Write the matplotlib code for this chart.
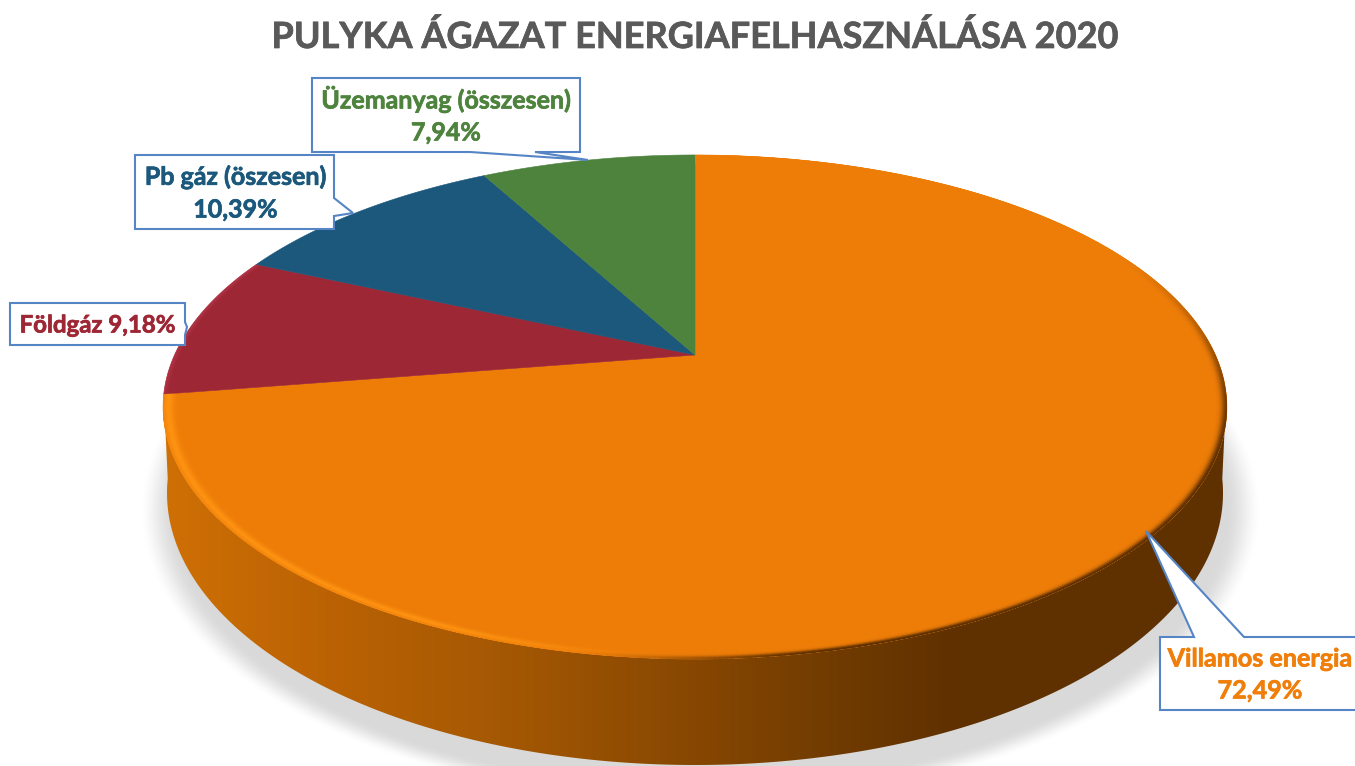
import numpy as np
import matplotlib
matplotlib.use("Agg")
import matplotlib.pyplot as plt
import matplotlib.patheffects as pe
from matplotlib.patches import Polygon
from matplotlib.collections import LineCollection
from matplotlib.colors import to_rgb, LinearSegmentedColormap

# ---- data ----
title = "PULYKA ÁGAZAT ENERGIAFELHASZNÁLÁSA 2020"
categories = ["Villamos energia", "Földgáz", "Pb gáz (öszesen)", "Üzemanyag (összesen)"]
values = [72.49, 9.18, 10.39, 7.94]
value_labels = ["72,49%", "9,18%", "10,39%", "7,94%"]
colors = ["#EE7D08", "#9E2735", "#1B587C", "#4E833E"]

# ---- style / layout ----
FONT = "Lato"
AX, AY = 695.0, 355.0      # apex of the perspective pie
K, P, C = 520.5, 241.3, 0.2063
EX, EY, EA, EB = 695.0, 407.0, 532.0, 252.0
BX, BY, BA, BB = 695.0, 493.0, 528.0, 272.0
LINE = "#5585C5"

fig = plt.figure(figsize=(13.55, 7.66), dpi=100, facecolor="white")
ax = fig.add_axes([0, 0, 1, 1])


def rim(theta_deg):
    """Perspective projection of a circle point, clockwise from the top."""
    th = np.radians(theta_deg)
    u, v = np.sin(th), np.cos(th)
    d = 1 + C * v
    return AX + K * u / d, AY - P * v / d


def smooth(a, b, x):
    s = np.clip((x - a) / (b - a), 0, 1)
    return s * s * (3 - 2 * s)


# shadow
xx, yy = np.meshgrid(np.arange(0, 1355), np.arange(0, 766))
r = np.hypot((xx - 700) / 525.0, (yy - 510) / 275.0)
dist = (r - 1) * 420
sh = np.clip(1 - dist / 30, 0, 1)
sh = sh * sh * (3 - 2 * sh) * 0.15
rgba = np.zeros(xx.shape + (4,))
rgba[..., 3] = sh
ax.imshow(rgba, extent=(0, 1355, 766, 0), zorder=1, interpolation="bilinear")

# side wall
t = np.radians(np.linspace(-3, 183, 300))
upper = np.column_stack([EX + EA * np.cos(t), EY + EB * np.sin(t)])
lower = np.column_stack([BX + BA * np.cos(t), BY + BB * np.sin(t)])
side = Polygon(np.vstack([upper, lower[::-1]]), closed=True, fc="none", ec="none", zorder=2)
ax.add_patch(side)
stops = [(163, "#CE7005"), (300, "#BE6404"), (500, "#A55803"), (695, "#874702"),
         (850, "#6E3A01"), (960, "#5F3000"), (1230, "#5F3000")]
cm = LinearSegmentedColormap.from_list(
    "side", [((x - 163) / (1230 - 163), c) for x, c in stops])
grad = np.linspace(0, 1, 1067)[None, :]
im = ax.imshow(grad, cmap=cm, extent=(163, 1230, 770, 395), aspect="auto", zorder=2)
im.set_clip_path(side)

# pie top face, one wedge per value
cum = np.concatenate([[0], np.cumsum(values) / np.sum(values) * 360.0])
patches = []
for i, col in enumerate(colors):
    th = np.linspace(cum[i], cum[i + 1], 400)
    x, y = rim(th)
    poly = Polygon(np.vstack([[AX, AY], np.column_stack([x, y])]), closed=True,
                   fc=col, ec=col, lw=0.4, zorder=3)
    ax.add_patch(poly)
    patches.append(poly)

# bevel on the orange wedge
th = np.linspace(cum[0], cum[1], 500)
px, py = rim(th)
base = np.array(to_rgb(colors[0]))
dark = np.array(to_rgb("#5F3000"))
bright = np.array(to_rgb("#FF9412"))
Dk = smooth(60, 115, th) * (1 - smooth(168, 192, th))
Hi = smooth(178, 205, th)
for d in np.arange(18, -0.5, -1.0):
    s = 1 - d / EA
    rx, ry = EX + (px - EX) * s, EY + (py - EY) * s
    wd = np.exp(-(d / 5.0) ** 2)
    wh = np.exp(-((d - 5) / 5.5) ** 2) * 0.9
    cols = base[None, :] * (1 - (Dk * wd + Hi * wh))[:, None] \
        + dark[None, :] * (Dk * wd)[:, None] + bright[None, :] * (Hi * wh)[:, None]
    segs = np.stack([np.column_stack([rx[:-1], ry[:-1]]),
                     np.column_stack([rx[1:], ry[1:]])], axis=1)
    lc = LineCollection(segs, colors=cols, linewidths=1.3, zorder=4, capstyle="round")
    ax.add_collection(lc)
    lc.set_clip_path(patches[0])

# subtle lighter edge on the red wedge
th = np.linspace(cum[1], cum[2], 200)
px, py = rim(th)
for d, a in [(4, 0.08), (3, 0.12), (2, 0.18), (1, 0.22), (0, 0.25)]:
    s = 1 - d / EA
    ln, = ax.plot(EX + (px - EX) * s, EY + (py - EY) * s, color="#C8405A", alpha=a,
                  lw=1.3, zorder=4)
    ln.set_clip_path(patches[1])


# callouts
def bold_text(x, y, txt, color, fs):
    ax.text(x, y, txt, color=color, ha="center", va="center", fontsize=fs,
            fontfamily=FONT, fontweight="bold", zorder=7,
            path_effects=[pe.withStroke(linewidth=0.5, foreground=color)])


def callout(pts, lines, color, cx, ys, fs):
    ax.add_patch(Polygon(pts, closed=True, fc="white", ec=LINE, lw=1.5, zorder=6,
                         joinstyle="miter"))
    for txt, yy_ in zip(lines, ys):
        bold_text(cx, yy_, txt, color, fs)


callout([(312, 78), (580, 78), (580, 152), (535, 152), (588, 160), (470, 152), (312, 152)],
        [categories[3], value_labels[3]], colors[3], 446, [99, 133], 18.0)
callout([(135, 155), (334, 155), (334, 198), (353, 213), (334, 216), (334, 229), (135, 229)],
        [categories[2], value_labels[2]], colors[2], 235.5, [177, 210], 18.0)
callout([(10, 303), (185, 303), (185, 322), (187, 327), (185, 335), (185, 345), (10, 345)],
        [categories[1] + " " + value_labels[1]], colors[1], 97.5, [325], 17.3)
callout([(1160, 637), (1194, 637), (1146, 531), (1244, 637), (1358, 637), (1358, 710), (1160, 710)],
        [categories[0], value_labels[0]], "#F07E0A", 1260, [659, 691], 18.1)

bold_text(695, 37, title, "#595959", 26.0)

ax.set_xlim(0, 1355)
ax.set_ylim(766, 0)
ax.axis("off")
fig.savefig("out.png", dpi=100, facecolor="white")
